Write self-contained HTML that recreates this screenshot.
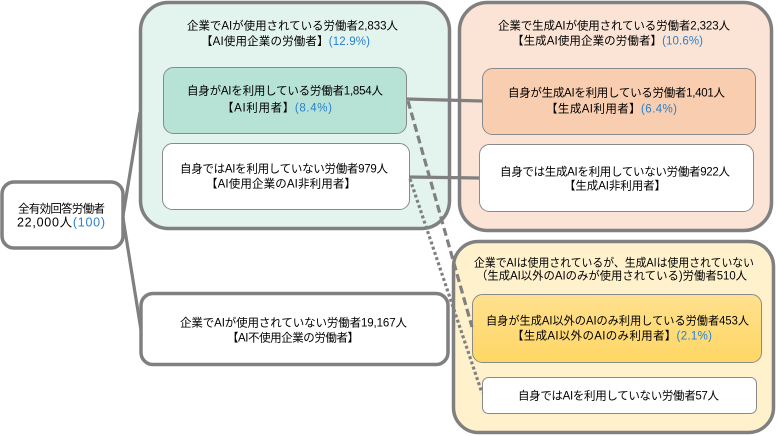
<!DOCTYPE html>
<html><head><meta charset="utf-8"><style>
html,body{margin:0;padding:0;background:#fff;}
svg{display:block;}
text{font-family:"Liberation Sans","Noto Sans CJK JP",sans-serif;font-size:11.5px;fill:#000;}
.b{fill:#2a80d0;}
</style></head><body>
<svg width="777" height="436" viewBox="0 0 777 436" xmlns="http://www.w3.org/2000/svg">
<defs>
<linearGradient id="yg" x1="0" y1="0" x2="0" y2="1"><stop offset="0" stop-color="#ffe08e"/><stop offset="1" stop-color="#ffd765"/></linearGradient>
</defs>
<!-- outer boxes -->
<rect x="140.5" y="2.5" width="309" height="226" rx="28" fill="#e3f4ef" stroke="#808080" stroke-width="3.5"/>
<rect x="459.5" y="2.5" width="312" height="228" rx="28" fill="#fbe4d6" stroke="#808080" stroke-width="3.5"/>
<rect x="453.5" y="241.5" width="320" height="191" rx="25" fill="#fff1cc" stroke="#808080" stroke-width="3.5"/>
<rect x="2" y="182" width="121" height="66" rx="12" fill="#fff" stroke="#808080" stroke-width="3.5"/>
<rect x="141" y="293.5" width="307" height="71" rx="12" fill="#fff" stroke="#808080" stroke-width="3.5"/>
<!-- inner boxes -->
<rect x="163.5" y="67.5" width="243" height="66" rx="10" fill="#b7e3d6" stroke="#8a8a8a" stroke-width="1"/>
<rect x="162.5" y="143.5" width="247" height="66" rx="10" fill="#fff" stroke="#8a8a8a" stroke-width="1"/>
<rect x="482.5" y="68.5" width="273" height="66" rx="10" fill="#f8cdb0" stroke="#8a8a8a" stroke-width="1"/>
<rect x="479.5" y="144.5" width="274" height="67" rx="10" fill="#fff" stroke="#8a8a8a" stroke-width="1"/>
<rect x="472.5" y="294.5" width="289" height="68" rx="10" fill="url(#yg)" stroke="#8a8a8a" stroke-width="1"/>
<rect x="482.5" y="377.5" width="274" height="36" rx="6" fill="#fff" stroke="#8a8a8a" stroke-width="1"/>
<!-- connectors -->
<g stroke="#808080" stroke-width="3.2" fill="none">
<line x1="123" y1="216" x2="140" y2="112"/>
<line x1="123" y1="218" x2="141" y2="330"/>
<line x1="406" y1="99" x2="482" y2="101"/>
<line x1="409" y1="177" x2="479" y2="178"/>
<line x1="408" y1="101" x2="472" y2="327" stroke-dasharray="8 4"/>
<line x1="410" y1="179" x2="482" y2="393" stroke-dasharray="3 2.5"/>
</g>
<!-- text -->
<text x="187" y="29.5" textLength="211" lengthAdjust="spacing">企業でAIが使用されている労働者2,833人</text>
<text x="201" y="45" textLength="169" lengthAdjust="spacing">【AI使用企業の労働者】<tspan class="b">(12.9%)</tspan></text>
<text x="187" y="94.5" textLength="196" lengthAdjust="spacing">自身がAIを利用している労働者1,854人</text>
<text x="222" y="111.5" textLength="110" lengthAdjust="spacing">【AI利用者】<tspan class="b">(8.4%)</tspan></text>
<text x="180" y="172.5" textLength="208" lengthAdjust="spacing">自身ではAIを利用していない労働者979人</text>
<text x="206" y="187.5" textLength="150" lengthAdjust="spacing">【AI使用企業のAI非利用者】</text>
<text x="18" y="212.5" textLength="87" lengthAdjust="spacing">全有効回答労働者</text>
<text x="17" y="226.5" textLength="88" lengthAdjust="spacing" style="font-size:12.5px">22,000人<tspan class="b">(100)</tspan></text>
<text x="498" y="29.5" textLength="232" lengthAdjust="spacing">企業で生成AIが使用されている労働者2,323人</text>
<text x="512" y="44.5" textLength="191" lengthAdjust="spacing">【生成AI使用企業の労働者】<tspan class="b">(10.6%)</tspan></text>
<text x="508" y="96.5" textLength="217" lengthAdjust="spacing">自身が生成AIを利用している労働者1,401人</text>
<text x="546" y="112.5" textLength="131" lengthAdjust="spacing">【生成AI利用者】<tspan class="b">(6.4%)</tspan></text>
<text x="500" y="175.5" textLength="230" lengthAdjust="spacing">自身では生成AIを利用していない労働者922人</text>
<text x="564" y="189.5" textLength="102" lengthAdjust="spacing">【生成AI非利用者】</text>
<text x="180" y="326.5" textLength="227" lengthAdjust="spacing">企業でAIが使用されていない労働者19,167人</text>
<text x="227" y="341.5" textLength="132" lengthAdjust="spacing">【AI不使用企業の労働者】</text>
<text x="474" y="266.5" textLength="280" lengthAdjust="spacingAndGlyphs">企業でAIは使用されているが、生成AIは使用されていない</text>
<text x="476" y="279.5" textLength="271" lengthAdjust="spacingAndGlyphs">（生成AI以外のAIのみが使用されている)労働者510人</text>
<text x="486" y="324.5" textLength="263" lengthAdjust="spacingAndGlyphs">自身が生成AI以外のAIのみ利用している労働者453人</text>
<text x="512" y="339.5" textLength="200" lengthAdjust="spacing">【生成AI以外のAIのみ利用者】<tspan class="b">(2.1%)</tspan></text>
<text x="518" y="399.5" textLength="201" lengthAdjust="spacing">自身ではAIを利用していない労働者57人</text>
</svg>
</body></html>
